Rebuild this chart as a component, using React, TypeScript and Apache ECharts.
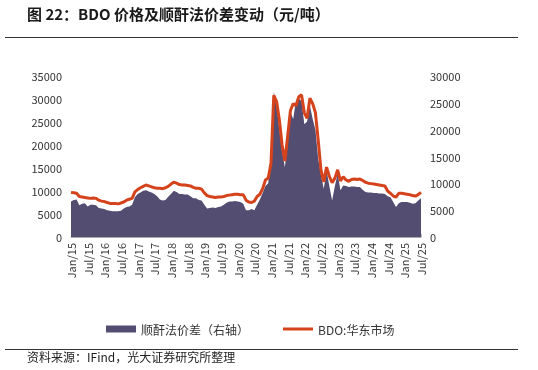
import React, { useEffect, useRef } from "react";
import * as echarts from "echarts";

const monthNames = ["Jan", "Feb", "Mar", "Apr", "May", "Jun", "Jul", "Aug", "Sep", "Oct", "Nov", "Dec"];
const years = [15, 16, 17, 18, 19, 20, 21, 22, 23, 24, 25];
const categories: string[] = [];
years.forEach((y) => monthNames.forEach((m) => categories.push(`${m}/${y}`)));
categories.length = 127; // Jan/15 .. Jul/25

// BDO:华东市场 (元/吨), left axis
const bdoPrice = [
  9700, 9600, 9500, 8800, 8700, 8600, 8500, 8400, 8500, 8400,
  8000, 7800, 7700, 7500, 7300, 7300, 7300, 7200, 7400, 7600,
  8000, 8200, 8400, 9800, 10300, 10700, 11000, 11300, 11100, 10900,
  10700, 10600, 10600, 10500, 10700, 11000, 11500, 11900, 11700, 11400,
  11300, 11300, 11200, 11100, 10800, 10600, 10600, 10400, 9600, 9000,
  8800, 8700, 8600, 8700, 8700, 8800, 9000, 9100, 9200, 9300,
  9300, 9200, 9200, 8000, 7600, 7500, 7800, 8800, 9300, 10500,
  12400, 12800, 16000, 30800, 29500, 25500, 20000, 16500, 22000, 27500,
  29000, 28500, 30500, 30900, 27000, 25800, 30200, 29000, 27000, 21000,
  14500, 12000, 15200, 13200, 11800, 12800, 14600, 12200, 13100, 12400,
  12100, 12500, 12600, 12500, 12600, 12300, 11900, 11700, 11600, 11500,
  11400, 11300, 11200, 11100, 10000, 9500, 8900, 8700, 9500, 9500,
  9400, 9300, 9200, 9000, 8900, 9200, 9700,
];

// 顺酐法价差 (元/吨), right axis
const spread = [
  6600, 6900, 7000, 5900, 6200, 6300, 5700, 6000, 6000, 5900,
  5400, 5300, 5200, 5000, 4900, 4800, 4800, 4800, 4900, 5300,
  5600, 5700, 6000, 7400, 8000, 8300, 8600, 8700, 8500, 8300,
  8000, 7600, 7000, 6800, 6900, 7500, 8000, 8600, 8400, 8000,
  8000, 7900, 7900, 7600, 7200, 7200, 6900, 6800, 6000, 5300,
  5400, 5500, 5400, 5600, 5700, 6000, 6400, 6600, 6600, 6700,
  6600, 6500, 6200, 5000, 5000, 5200, 5000, 6000, 7000, 8200,
  9500, 10000, 15500, 27000, 24500, 20000, 16000, 13000, 18000, 23300,
  22000, 25500, 25800, 25300, 21000, 21500, 24500, 22000, 20000, 14500,
  11500, 9000, 12400, 9500, 6800, 9500, 11800, 8700, 9600, 9500,
  9300, 9400, 9400, 9300, 9300, 8800, 8400, 8300, 8300, 8200,
  8200, 8100, 8100, 8000, 7600, 7400, 6500, 5600, 6300, 6500,
  6500, 6500, 6400, 6200, 6300, 6800, 7200,
];

const leftTicks = { min: 0, max: 35000, interval: 5000 };
const rightTicks = { min: 0, max: 30000, interval: 5000 };

const FONT = "'Noto Sans CJK SC', 'Noto Sans', sans-serif";
const AREA_COLOR = "#524D71";
const LINE_COLOR = "#D4431B";
const AREA_NAME = "顺酐法价差（右轴）";
const LINE_NAME = "BDO:华东市场";

export default function App() {
  const ref = useRef<HTMLDivElement>(null);
  useEffect(() => {
    if (!ref.current) return;
    const chart = echarts.init(ref.current, null, { renderer: "svg" });
    const legendText = { fontSize: 12, color: "#333", fontFamily: FONT };
    chart.setOption({
      animation: false,
      textStyle: { fontFamily: FONT },
      graphic: [
        {
          type: "text",
          left: 27,
          top: 6,
          style: {
            text: "图 22：BDO 价格及顺酐法价差变动（元/吨）",
            font: `bold 15px ${FONT}`,
            fill: "#1a1a1a",
          },
        },
        {
          type: "line",
          shape: { x1: 5, y1: 37.5, x2: 518, y2: 37.5 },
          style: { stroke: "#333", lineWidth: 1 },
        },
        {
          type: "line",
          shape: { x1: 5, y1: 349.5, x2: 518, y2: 349.5 },
          style: { stroke: "#333", lineWidth: 1 },
        },
        {
          type: "text",
          left: 27,
          top: 350,
          style: {
            text: "资料来源：IFind，光大证券研究所整理",
            font: `12px ${FONT}`,
            fill: "#222",
          },
        },
      ],
      legend: [
        {
          left: 101,
          top: 318,
          itemWidth: 30,
          itemHeight: 7,
          textStyle: legendText,
          data: [{ name: AREA_NAME, icon: "rect" }],
        },
        {
          left: 278,
          top: 318,
          itemWidth: 30,
          itemHeight: 3,
          textStyle: legendText,
          data: [{ name: LINE_NAME, icon: "rect" }],
        },
      ],
      grid: { left: 71, right: 117, top: 76, bottom: 133 },
      xAxis: {
        type: "category",
        data: categories,
        boundaryGap: false,
        axisLine: { lineStyle: { color: "#aaa" } },
        axisTick: { inside: true, length: 3, interval: 5, lineStyle: { color: "#bbb" } },
        axisLabel: {
          interval: 5,
          rotate: 90,
          fontSize: 11,
          color: "#333",
          margin: 6,
          fontFamily: FONT,
        },
        splitLine: { show: false },
      },
      yAxis: [
        {
          type: "value",
          ...leftTicks,
          axisLine: { show: false },
          axisTick: { show: false },
          splitLine: { show: false },
          axisLabel: { fontSize: 11, color: "#333", margin: 9, fontFamily: FONT, formatter: (v: number) => String(v) },
        },
        {
          type: "value",
          ...rightTicks,
          position: "right",
          axisLine: { show: false },
          axisTick: { show: false },
          splitLine: { show: false },
          axisLabel: { fontSize: 11, color: "#333", margin: 9, fontFamily: FONT, formatter: (v: number) => String(v) },
        },
      ],
      series: [
        {
          name: AREA_NAME,
          type: "line",
          yAxisIndex: 1,
          data: spread,
          symbol: "none",
          lineStyle: { width: 0, color: AREA_COLOR },
          itemStyle: { color: AREA_COLOR },
          areaStyle: { color: AREA_COLOR, opacity: 1 },
          z: 1,
        },
        {
          name: LINE_NAME,
          type: "line",
          yAxisIndex: 0,
          data: bdoPrice,
          symbol: "none",
          lineStyle: { width: 3, color: LINE_COLOR },
          itemStyle: { color: LINE_COLOR },
          z: 3,
        },
      ],
    });
    return () => chart.dispose();
  }, []);
  return <div ref={ref} style={{ position: "fixed", left: 0, top: 0, width: 538, height: 370 }} />;
}
